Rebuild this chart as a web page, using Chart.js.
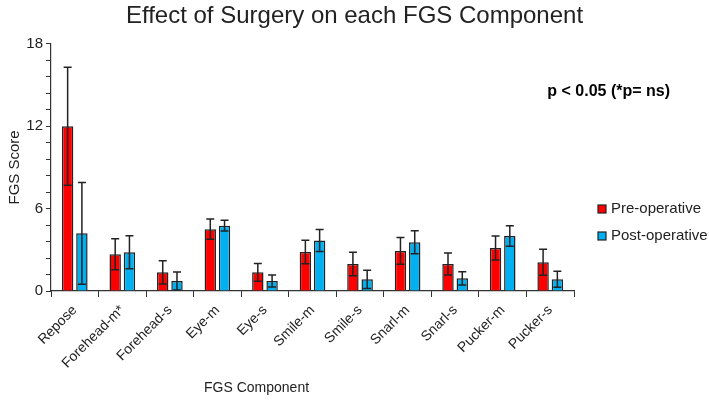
<!DOCTYPE html>
<html>
<head>
<meta charset="utf-8">
<script src="https://cdn.jsdelivr.net/npm/chart.js@4.4.1/dist/chart.umd.min.js"></script>
<style>
    body { margin: 0; background: #fff; }
    #wrap { width: 709px; height: 400px; position: relative; }
</style>
</head>
<body>
<div id="wrap"><canvas id="fgsChart"></canvas></div>
<script>
const componentes = ["Repose", "Forehead-m*", "Forehead-s", "Eye-m", "Eye-s", "Smile-m",
    "Smile-s", "Snarl-m", "Snarl-s", "Pucker-m", "Pucker-s"];

const preOp = [12.0, 2.67, 1.36, 4.5, 1.36, 2.84, 1.97, 2.92, 1.97, 3.13, 2.09];
const preOpErro = [4.3, 1.13, 0.85, 0.74, 0.65, 0.86, 0.86, 0.97, 0.8, 0.88, 0.95];

const postOp = [4.2, 2.82, 0.73, 4.76, 0.73, 3.67, 0.85, 3.55, 0.92, 4.01, 0.85];
const postOpErro = [3.7, 1.2, 0.65, 0.4, 0.44, 0.8, 0.67, 0.83, 0.48, 0.75, 0.58];

const yTicks = [0, 1.2, 2.4, 3.6, 4.8, 6, 7.2, 8.4, 9.6, 10.8, 12, 13.2, 14.4, 15.6, 16.8, 18];
const yLabels = { 0: "0", 5: "6", 10: "12", 15: "18" };

const FONTE = "'Liberation Sans', Arial, sans-serif";
const COR_TEXTO = "#222";

// error bars drawn on top of each bar, from the bar's own scale
const errorBars = {
    id: "errorBars",
    afterDatasetsDraw(chart) {
        const ctx = chart.ctx;
        const y = chart.scales.y;
        chart.data.datasets.forEach((ds, i) => {
            const meta = chart.getDatasetMeta(i);
            meta.data.forEach((bar, j) => {
                const v = ds.data[j];
                const e = ds.erros[j];
                const yTop = y.getPixelForValue(v + e);
                const yBot = y.getPixelForValue(Math.max(0, v - e));
                ctx.save();
                ctx.strokeStyle = "#222";
                ctx.lineWidth = 1.5;
                ctx.beginPath();
                ctx.moveTo(bar.x, yTop);
                ctx.lineTo(bar.x, yBot);
                ctx.moveTo(bar.x - 4, yTop);
                ctx.lineTo(bar.x + 4, yTop);
                ctx.moveTo(bar.x - 4, yBot);
                ctx.lineTo(bar.x + 4, yBot);
                ctx.stroke();
                ctx.restore();
            });
        });
    }
};

// legend, p-value note and x title
const extras = {
    id: "extras",
    afterDraw(chart) {
        const ctx = chart.ctx;
        const area = chart.chartArea;
        ctx.save();
        ctx.fillStyle = "#000";
        ctx.font = "bold 16px " + FONTE;
        ctx.textAlign = "right";
        ctx.textBaseline = "middle";
        ctx.fillText("p < 0.05 (*p= ns)", 670, 92);

        ctx.font = "15px " + FONTE;
        ctx.textAlign = "left";
        chart.data.datasets.forEach((ds, i) => {
            const yy = 209 + i * 27;
            ctx.fillStyle = ds.backgroundColor;
            ctx.fillRect(598, yy - 4, 8, 8);
            ctx.strokeStyle = "#222";
            ctx.lineWidth = 1.2;
            ctx.strokeRect(598, yy - 4, 8, 8);
            ctx.fillStyle = COR_TEXTO;
            ctx.fillText(ds.label, 611, yy);
        });

        ctx.font = "14px " + FONTE;
        ctx.textAlign = "center";
        ctx.fillText("FGS Component", area.left + area.width * 0.393, 388);
        ctx.restore();
    }
};

const ctxFgs = document.getElementById("fgsChart").getContext("2d");

new Chart(ctxFgs, {
    type: "bar",
    data: {
        labels: componentes,
        datasets: [
            {
                label: "Pre-operative",
                data: preOp,
                erros: preOpErro,
                backgroundColor: "#ff0000",
                borderColor: "#222",
                borderWidth: 1.5,
                categoryPercentage: 0.6,
                barPercentage: 0.8
            },
            {
                label: "Post-operative",
                data: postOp,
                erros: postOpErro,
                backgroundColor: "#00b0f0",
                borderColor: "#222",
                borderWidth: 1.5,
                categoryPercentage: 0.6,
                barPercentage: 0.8
            }
        ]
    },
    options: {
        responsive: true,
        maintainAspectRatio: false,
        animation: false,
        layout: { padding: 0 },
        plugins: {
            legend: { display: false },
            tooltip: { enabled: false },
            title: {
                display: true,
                text: "Effect of Surgery on each FGS Component",
                color: COR_TEXTO,
                font: { family: FONTE, size: 24, weight: "normal" },
                padding: { top: 2, bottom: 13 }
            }
        },
        scales: {
            x: {
                grid: {
                    offset: true,
                    drawOnChartArea: false,
                    tickLength: 6,
                    color: "#333"
                },
                border: { color: "#333", width: 1.2 },
                ticks: {
                    color: COR_TEXTO,
                    font: { family: FONTE, size: 14 },
                    maxRotation: 45,
                    minRotation: 45,
                    autoSkip: false,
                    padding: 5
                },
                afterFit(scale) { scale.height = 109; }
            },
            y: {
                min: 0,
                max: 18,
                afterBuildTicks(scale) {
                    scale.ticks = yTicks.map(v => ({ value: v }));
                },
                grid: {
                    drawOnChartArea: false,
                    tickLength: 5,
                    color: "#333"
                },
                border: { color: "#333", width: 1.2 },
                ticks: {
                    color: COR_TEXTO,
                    font: { family: FONTE, size: 15 },
                    padding: 3,
                    autoSkip: false,
                    callback: (v, i) => yLabels[i] || ""
                },
                title: {
                    display: true,
                    text: "FGS Score",
                    color: COR_TEXTO,
                    font: { family: FONTE, size: 15 },
                    padding: { top: 6, bottom: 2 }
                },
                afterFit(scale) { scale.width = 51; }
            },
            // empty right-hand axis that keeps room for the legend
            espaco: {
                type: "linear",
                position: "right",
                grid: { display: false },
                border: { display: false },
                ticks: { display: false },
                afterFit(scale) { scale.width = 135; }
            }
        }
    },
    plugins: [errorBars, extras]
});
</script>
</body>
</html>
